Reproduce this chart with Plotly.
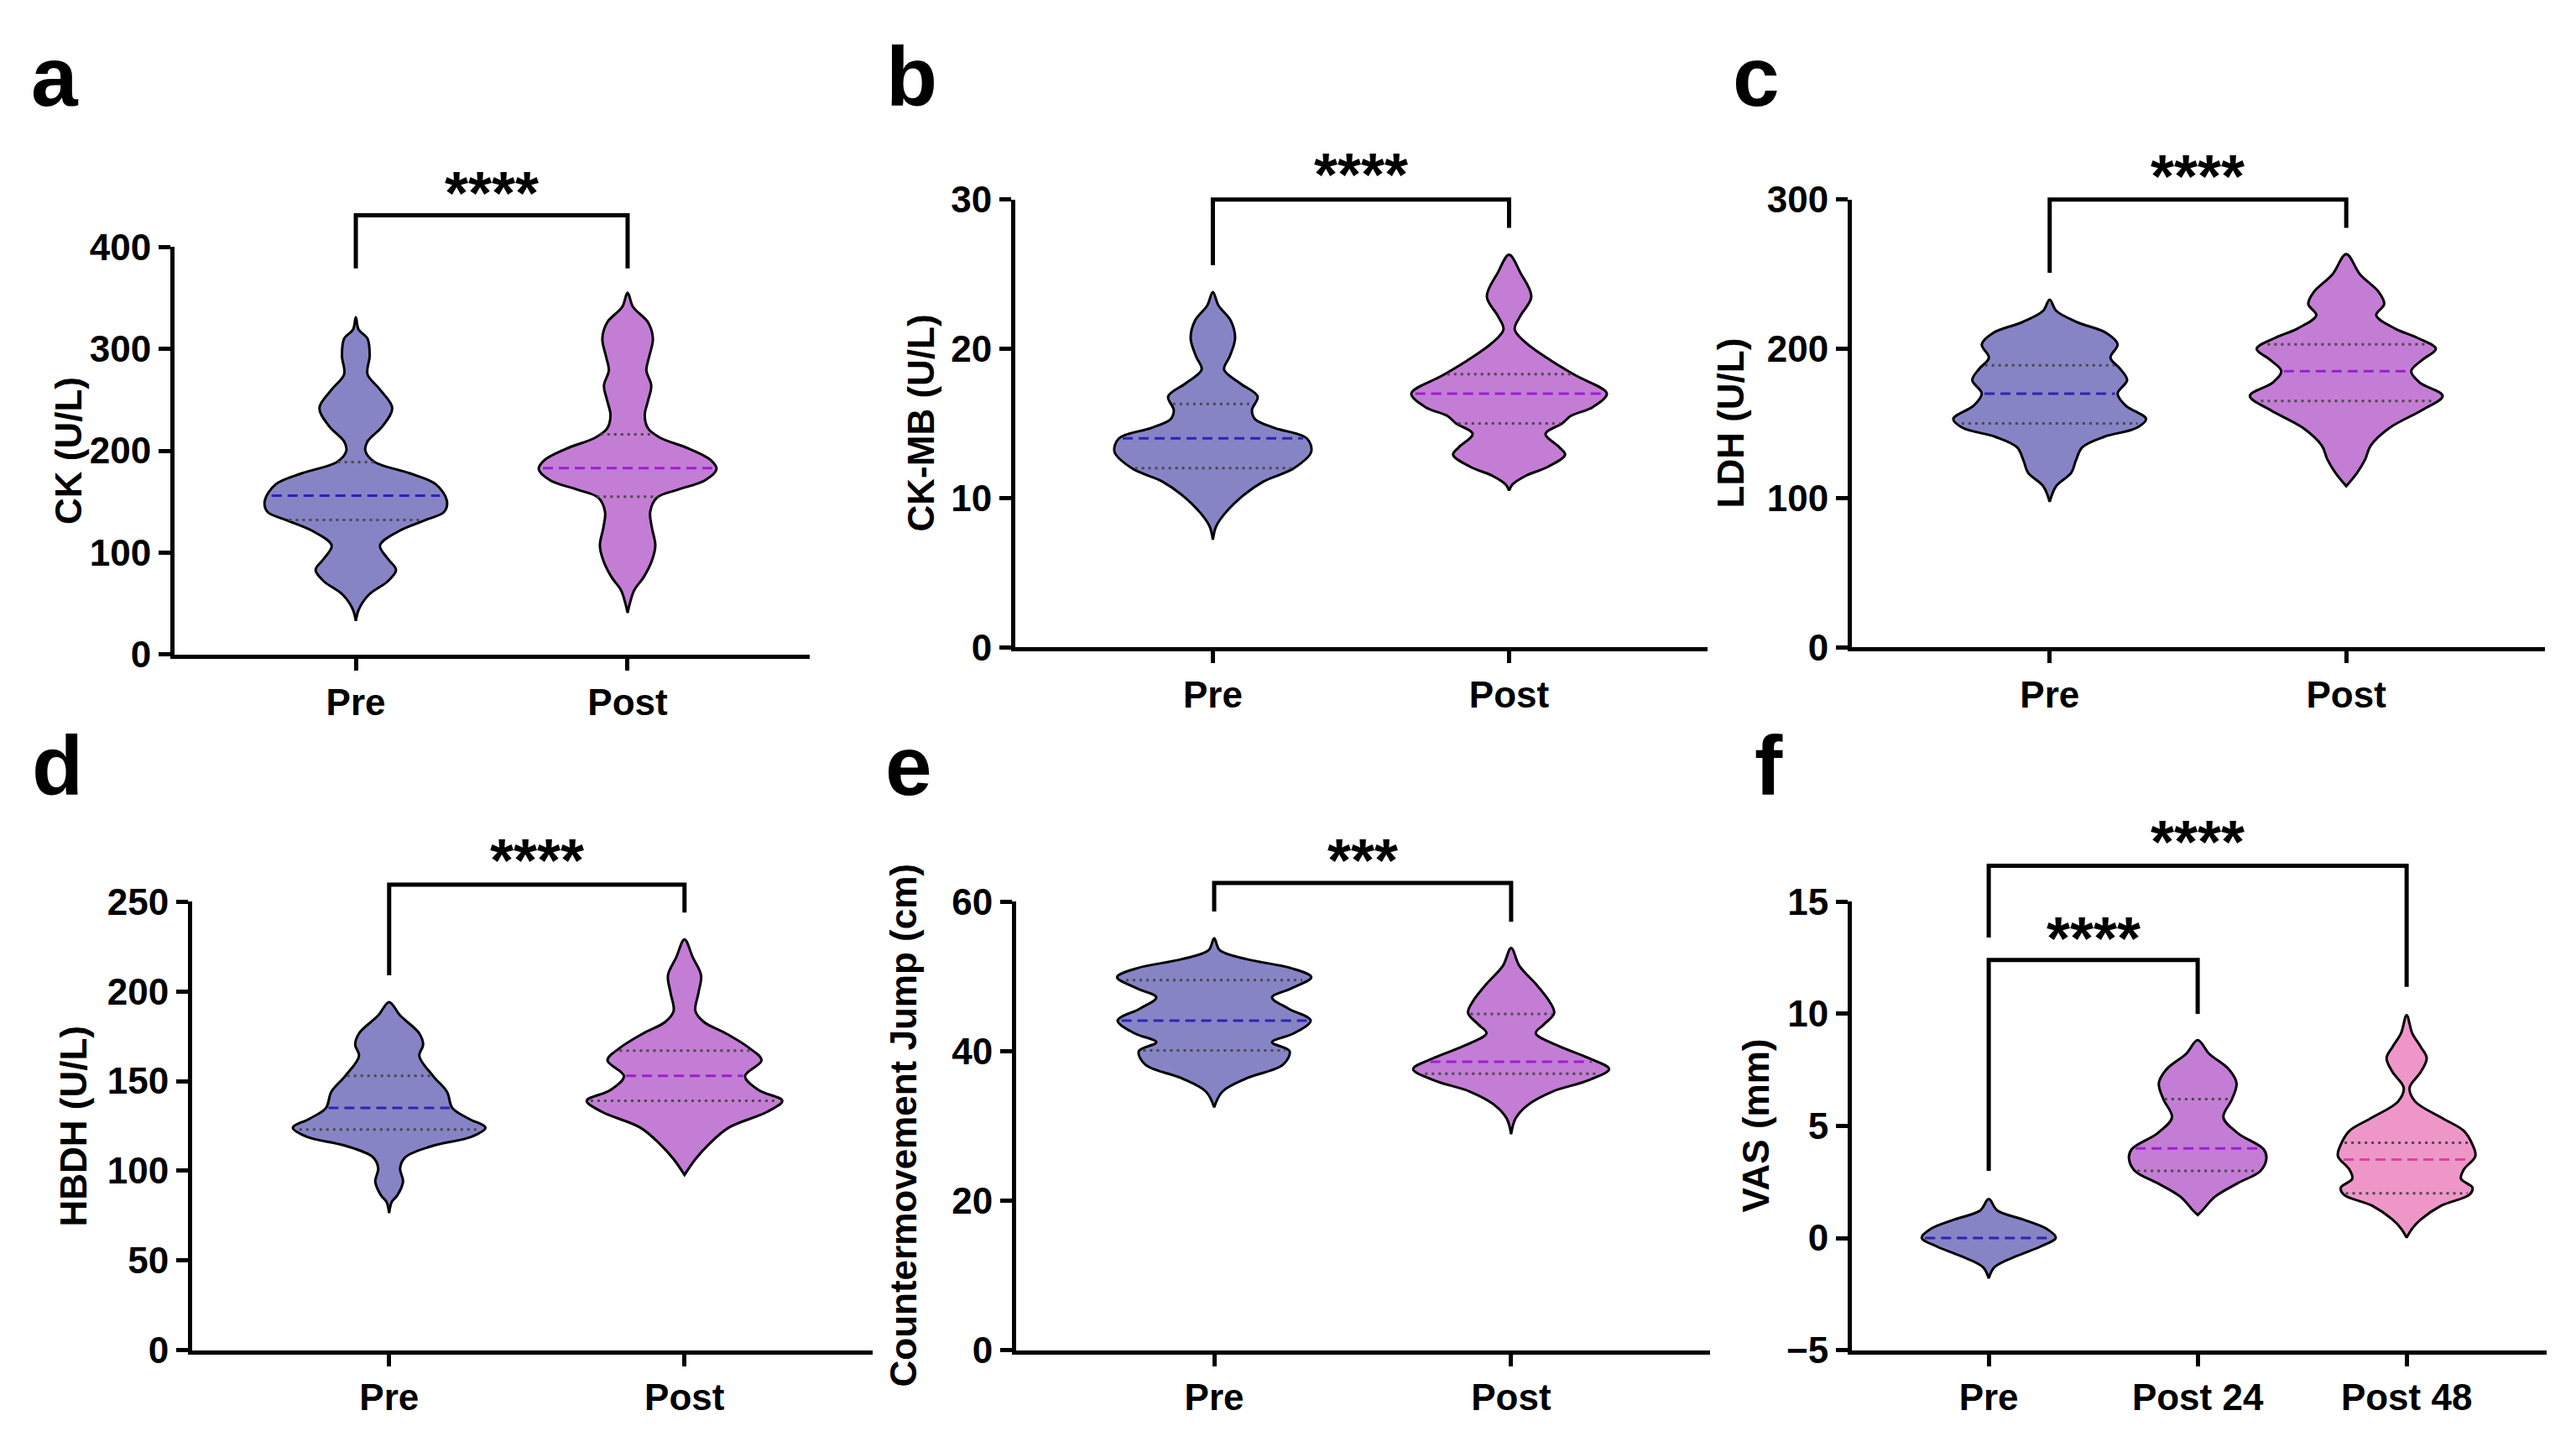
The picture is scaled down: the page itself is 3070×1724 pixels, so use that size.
import numpy as np
import plotly.graph_objects as go

# ------------------------------------------------------------------ data
GROUPS_2 = ["Pre", "Post"]
GROUPS_3 = ["Pre", "Post 24", "Post 48"]

# violin outlines: value levels (top -> bottom) and half-widths (category units)
# a  CK (U/L)
CK_PRE_LEVELS = [331, 319, 310, 293, 275, 260, 242, 224, 209, 200, 189, 178, 167, 151, 140, 132, 121, 107, 94, 83, 72, 59, 45, 33]
CK_PRE_WIDTHS = [0, .01, .043, .051, .043, .089, .134, .098, .043, .035, .069, .197, .295, .335, .325, .256, .157, .089, .118, .148, .118, .049, .012, 0]
CK_PRE_STATS = [156, 132, 189]          # median, Q1, Q3
CK_POST_LEVELS = [355, 341, 326, 310, 292, 279, 264, 249, 235, 222, 213, 202, 191, 182, 171, 162, 154, 140, 125, 107, 92, 76, 63, 50, 41]
CK_POST_WIDTHS = [0, .02, .075, .093, .079, .069, .087, .075, .063, .075, .118, .226, .305, .327, .285, .187, .108, .083, .089, .102, .089, .059, .024, .008, 0]
CK_POST_STATS = [183, 155, 216]
CK_SIG = [431, 379, 379, 458]           # bracket top, left leg end, right leg end, label

# b  CK-MB (U/L)
CKMB_PRE_LEVELS = [23.8, 22.9, 21.9, 20.7, 19.5, 18.6, 17.7, 16.8, 15.9, 15.3, 14.7, 14.0, 13.1, 12.0, 11.1, 10.2, 9.0, 8.1, 7.2]
CKMB_PRE_WIDTHS = [0, .019, .06, .075, .057, .038, .091, .151, .132, .142, .208, .317, .332, .274, .17, .104, .042, .011, 0]
CKMB_PRE_STATS = [14.0, 12.0, 16.3]
CKMB_POST_LEVELS = [26.3, 25.1, 23.5, 22.2, 21.3, 20.4, 19.2, 18.2, 17.0, 16.1, 15.5, 15.0, 14.3, 13.4, 12.9, 12.1, 11.5, 10.9, 10.5]
CKMB_POST_WIDTHS = [0, .038, .075, .038, .019, .057, .142, .226, .33, .283, .208, .179, .123, .17, .189, .132, .057, .011, 0]
CKMB_POST_STATS = [17.0, 15.0, 18.3]
CKMB_SIG = [30, 25.6, 28.1, 32.0]

# c  LDH (U/L)
LDH_PRE_LEVELS = [233, 225.5, 218, 210.5, 203, 194, 186.5, 179, 170, 162, 153, 147, 141, 134, 125, 117, 108, 97.5]
LDH_PRE_WIDTHS = [0, .022, .091, .192, .229, .205, .238, .261, .229, .256, .325, .293, .183, .11, .088, .073, .022, 0]
LDH_PRE_STATS = [170, 150, 189]
LDH_POST_LEVELS = [263.5, 250, 238, 230, 222.5, 213.5, 207.5, 200, 192.5, 185, 177.5, 168.5, 159, 147, 135, 126, 117, 108]
LDH_POST_WIDTHS = [0, .046, .11, .128, .101, .165, .238, .302, .256, .219, .247, .325, .256, .146, .082, .064, .037, 0]
LDH_POST_STATS = [185, 165, 203]
LDH_SIG = [300, 251, 281, 319]

# d  HBDH (U/L)
HBDH_PRE_LEVELS = [194, 186.6, 176.6, 170.3, 164, 152.8, 144, 135, 129, 124, 119, 114, 107.7, 101.5, 94, 86.4, 82.7, 76.4]
HBDH_PRE_WIDTHS = [0, .037, .102, .115, .102, .149, .196, .214, .27, .326, .279, .149, .056, .037, .047, .028, .009, 0]
HBDH_PRE_STATS = [135, 123, 153]
HBDH_POST_LEVELS = [229, 219, 209, 199, 189, 183, 176.6, 168, 161.6, 152.8, 145, 139, 132.8, 124, 115, 106.5, 97.7]
HBDH_POST_WIDTHS = [0, .028, .056, .047, .037, .065, .14, .223, .261, .205, .251, .331, .279, .149, .084, .037, 0]
HBDH_POST_STATS = [153, 139, 167]
HBDH_SIG = [259.5, 209, 244, 276]

# e  Countermovement Jump (cm)
CMJ_PRE_LEVELS = [55.1, 53.5, 52.3, 51.1, 49.9, 48.4, 47.2, 45.7, 44.1, 42.4, 41.2, 40.0, 38.2, 36.4, 34.6, 32.5]
CMJ_PRE_WIDTHS = [0, .019, .111, .26, .327, .26, .195, .25, .325, .269, .195, .254, .232, .111, .028, 0]
CMJ_PRE_STATS = [44.1, 40.1, 49.5]
CMJ_POST_LEVELS = [53.8, 51.4, 49.0, 46.6, 45.1, 43.6, 42.4, 40.9, 39.1, 37.6, 36.1, 34.6, 32.8, 31.0, 28.9]
CMJ_POST_WIDTHS = [0, .028, .083, .13, .145, .111, .083, .148, .26, .33, .26, .139, .056, .015, 0]
CMJ_POST_STATS = [38.6, 37.0, 45.0]
CMJ_SIG = [62.5, 58.7, 57.3, 66.2]

# f  VAS (mm)
VAS_PRE_LEVELS = [1.74, 1.23, 0.83, 0.43, 0.02, -0.38, -0.79, -1.30, -1.80]
VAS_PRE_WIDTHS = [0, .041, .164, .274, .321, .247, .137, .027, 0]
VAS_PRE_STATS = [0.0, 0.0, 0.0]
VAS_P24_LEVELS = [8.83, 8.22, 7.51, 6.90, 6.19, 5.38, 4.68, 3.97, 3.56, 3.00, 2.45, 1.84, 1.23, 1.03]
VAS_P24_WIDTHS = [0, .055, .151, .186, .164, .123, .192, .315, .329, .301, .192, .082, .022, 0]
VAS_P24_STATS = [4.0, 3.0, 6.2]
VAS_P48_LEVELS = [9.94, 9.13, 8.52, 8.02, 7.41, 6.70, 6.09, 5.38, 4.78, 4.17, 3.66, 3.06, 2.65, 2.25, 1.94, 1.44, 0.83, 0.43, 0.02]
VAS_P48_WIDTHS = [0, .027, .068, .096, .068, .014, .041, .164, .274, .315, .329, .274, .26, .315, .301, .164, .068, .027, 0]
VAS_P48_STATS = [3.5, 2.0, 4.25]
VAS_SIG_24 = [12.4, 3.0, 10.0, 13.6]
VAS_SIG_48 = [16.6, 13.4, 11.2, 17.9]

# ------------------------------------------------------------------ style
W, H = 3070, 1724
FONT = "Liberation Sans, Arial, sans-serif"
PRE_FILL, POST_FILL, P48_FILL = "#8784C6", "#C47DD5", "#EF96C9"
PRE_MED, POST_MED, P48_MED = "#2B25B5", "#9B1FD0", "#E0409C"
QUART = "#4A4A4A"
AXW = 5
TXT = 44

PANELS = [
    dict(letter="a", cats=GROUPS_2, title="CK (U/L)", yr=(0, 400), dtick=100, xr=(-0.667, 1.67),
         dx=(208, 965), dy=(277, 777), tx=81, lx=35, lb=106,
         violins=[(CK_PRE_LEVELS, CK_PRE_WIDTHS, CK_PRE_STATS, PRE_FILL, PRE_MED),
                  (CK_POST_LEVELS, CK_POST_WIDTHS, CK_POST_STATS, POST_FILL, POST_MED)],
         sig=[(0, 1, CK_SIG, "****")]),
    dict(letter="b", cats=GROUPS_2, title="CK-MB (U/L)", yr=(0, 30), dtick=10, xr=(-0.667, 1.67),
         dx=(1210, 2035), dy=(219, 768), tx=1097, lx=1054, lb=106,
         violins=[(CKMB_PRE_LEVELS, CKMB_PRE_WIDTHS, CKMB_PRE_STATS, PRE_FILL, PRE_MED),
                  (CKMB_POST_LEVELS, CKMB_POST_WIDTHS, CKMB_POST_STATS, POST_FILL, POST_MED)],
         sig=[(0, 1, CKMB_SIG, "****")]),
    dict(letter="c", cats=GROUPS_2, title="LDH (U/L)", yr=(0, 300), dtick=100, xr=(-0.667, 1.67),
         dx=(2207, 3033), dy=(219, 768), tx=2062, lx=2063, lb=106,
         violins=[(LDH_PRE_LEVELS, LDH_PRE_WIDTHS, LDH_PRE_STATS, PRE_FILL, PRE_MED),
                  (LDH_POST_LEVELS, LDH_POST_WIDTHS, LDH_POST_STATS, POST_FILL, POST_MED)],
         sig=[(0, 1, LDH_SIG, "****")]),
    dict(letter="d", cats=GROUPS_2, title="HBDH (U/L)", yr=(0, 250), dtick=50, xr=(-0.667, 1.637),
         dx=(229, 1040), dy=(1080, 1630), tx=87, lx=36, lb=951,
         violins=[(HBDH_PRE_LEVELS, HBDH_PRE_WIDTHS, HBDH_PRE_STATS, PRE_FILL, PRE_MED),
                  (HBDH_POST_LEVELS, HBDH_POST_WIDTHS, HBDH_POST_STATS, POST_FILL, POST_MED)],
         sig=[(0, 1, HBDH_SIG, "****")]),
    dict(letter="e", cats=GROUPS_2, title="Countermovement Jump (cm)", yr=(0, 60), dtick=20, xr=(-0.667, 1.67),
         dx=(1211, 2038), dy=(1080, 1630), tx=1076, lx=1053, lb=951,
         violins=[(CMJ_PRE_LEVELS, CMJ_PRE_WIDTHS, CMJ_PRE_STATS, PRE_FILL, PRE_MED),
                  (CMJ_POST_LEVELS, CMJ_POST_WIDTHS, CMJ_POST_STATS, POST_FILL, POST_MED)],
         sig=[(0, 1, CMJ_SIG, "***")]),
    dict(letter="f", cats=GROUPS_3, title="VAS (mm)", yr=(-5, 15), dtick=5, xr=(-0.655, 2.67),
         dx=(2207, 3035), dy=(1080, 1630), tx=2092, lx=2089, lb=951,
         violins=[(VAS_PRE_LEVELS, VAS_PRE_WIDTHS, VAS_PRE_STATS, PRE_FILL, PRE_MED),
                  (VAS_P24_LEVELS, VAS_P24_WIDTHS, VAS_P24_STATS, POST_FILL, POST_MED),
                  (VAS_P48_LEVELS, VAS_P48_WIDTHS, VAS_P48_STATS, P48_FILL, P48_MED)],
         sig=[(0, 1, VAS_SIG_24, "****"), (0, 2, VAS_SIG_48, "****")]),
]


def fx(px):
    return px / W


def fy(py):
    return 1 - py / H


fig = go.Figure()
layout = dict(width=W, height=H, margin=dict(l=0, r=0, t=0, b=0),
              paper_bgcolor="white", plot_bgcolor="rgba(0,0,0,0)", showlegend=False,
              font=dict(family=FONT, color="black"))
annotations = []
n = len(PANELS)

for i, p in enumerate(PANELS):
    k = i + 1
    sx = "" if k == 1 else str(k)
    xname, yname = "x" + sx, "y" + sx
    helper = "y" + str(k + n)
    tickfont = dict(family=FONT, size=TXT, color="black", weight="bold")

    layout["xaxis" + sx] = dict(domain=[fx(p["dx"][0]), fx(p["dx"][1])], range=list(p["xr"]), anchor=yname,
                                tickvals=list(range(len(p["cats"]))), ticktext=p["cats"],
                                showline=True, linewidth=AXW, linecolor="black", ticks="outside",
                                ticklen=14, tickwidth=AXW, tickcolor="black", showgrid=False,
                                zeroline=False, tickfont=tickfont, fixedrange=True)
    ydom = [fy(p["dy"][1]), fy(p["dy"][0])]
    layout["yaxis" + sx] = dict(domain=ydom, range=list(p["yr"]), anchor=xname, dtick=p["dtick"],
                                tick0=p["yr"][0], showline=True, linewidth=AXW, linecolor="black",
                                ticks="outside", ticklen=14, tickwidth=AXW, tickcolor="black",
                                showgrid=False, zeroline=False, tickfont=tickfont, fixedrange=True)
    # helper axis: same scale, taller domain, so brackets above the axis are not clipped
    top_ext = p["dy"][0] - 200
    span = p["yr"][1] - p["yr"][0]
    ext_hi = p["yr"][0] + span * (p["dy"][1] - top_ext) / (p["dy"][1] - p["dy"][0])
    layout["yaxis" + str(k + n)] = dict(domain=[fy(p["dy"][1]), fy(top_ext)], range=[p["yr"][0], ext_hi],
                                        anchor=xname, visible=False, fixedrange=True)

    # violins
    for j, (lv, wd, stats, fill, medc) in enumerate(p["violins"]):
        lv = np.asarray(lv, float)
        wd = np.asarray(wd, float)
        xs = np.concatenate([j + wd, (j - wd)[::-1]])
        ys = np.concatenate([lv, lv[::-1]])
        fig.add_trace(go.Scatter(x=xs, y=ys, xaxis=xname, yaxis=yname, mode="lines", fill="toself",
                                 fillcolor=fill, line=dict(color="black", width=3, shape="spline", smoothing=1.0),
                                 hoverinfo="skip"))
        med, q1, q3 = stats
        lines = []
        for q in (q1, q3):
            if abs(q - med) > 1e-9:
                lines.append((q, QUART, "3px,5px"))
        lines.append((med, medc, "12px,7px"))
        for val, col, dash in lines:
            hw = np.interp(val, lv[::-1], wd[::-1]) * 0.96
            fig.add_trace(go.Scatter(x=[j - hw, j + hw], y=[val, val], xaxis=xname, yaxis=yname,
                                     mode="lines", line=dict(color=col, width=3, dash=dash),
                                     hoverinfo="skip"))

    # significance brackets
    for (a_i, b_i, vals, txt) in p["sig"]:
        top, l_end, r_end, lab = vals
        fig.add_trace(go.Scatter(x=[a_i, a_i, b_i, b_i], y=[l_end, top, top, r_end], xaxis=xname,
                                 yaxis=helper, mode="lines",
                                 line=dict(color="black", width=AXW), hoverinfo="skip"))
        annotations.append(dict(x=(a_i + b_i) / 2, y=lab, xref=xname, yref=helper, text=txt,
                                showarrow=False, yshift=-6, xanchor="center", yanchor="middle",
                                font=dict(family=FONT, size=72, color="black", weight="bold")))

    # axis title
    annotations.append(dict(x=fx(p["tx"]), y=(ydom[0] + ydom[1]) / 2, xref="paper", yref="paper",
                            xanchor="center", yanchor="middle",
                            text=p["title"], textangle=-90, showarrow=False,
                            font=dict(family=FONT, size=TXT, color="black", weight="bold")))
    # panel letter
    annotations.append(dict(x=fx(p["lx"]), y=fy(p["lb"] + 22), xref="paper", yref="paper",
                            xanchor="left", yanchor="bottom", text=p["letter"], showarrow=False,
                            font=dict(family=FONT, size=100, color="black", weight="bold")))

layout["annotations"] = annotations
fig.update_layout(**layout)
fig.write_html("out.html", config={"displayModeBar": False},
               post_script="document.body.style.margin='0';document.body.style.overflow='hidden';")
